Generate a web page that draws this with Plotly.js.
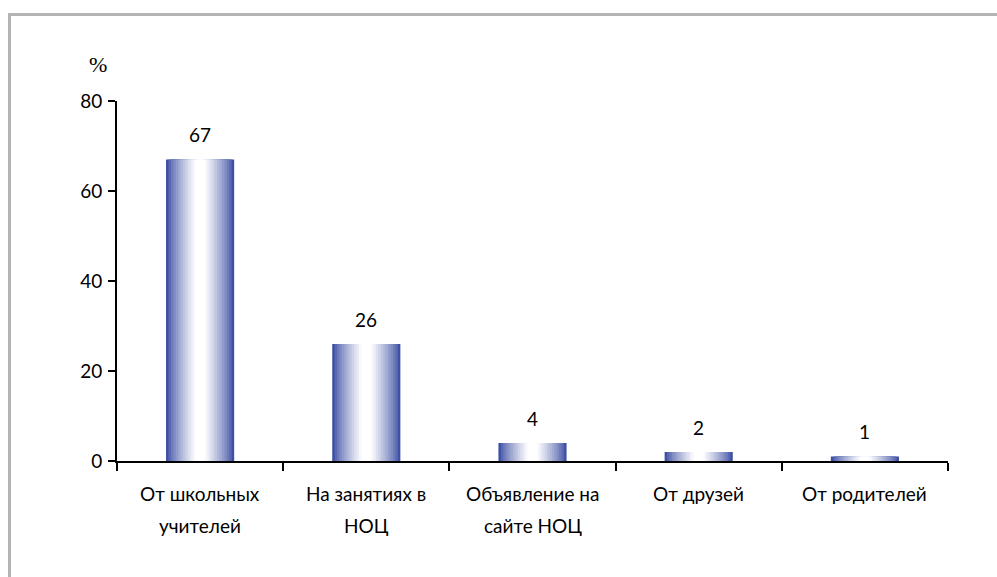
<!DOCTYPE html>
<html>
<head>
<meta charset="utf-8">
<script src="https://cdn.plot.ly/plotly-3.0.1.min.js"></script>
<style>
html,body{margin:0;padding:0;background:#fff;overflow:hidden;}
#frame{position:absolute;left:8px;top:13px;width:1100px;height:700px;border-top:3px solid #b3b3b3;border-left:3px solid #b3b3b3;}
#chart{position:absolute;left:0;top:0;width:997px;height:577px;}
</style>
</head>
<body>
<div id="frame"></div>
<div id="chart"></div>
<script>
const categories = ["От школьных учителей", "На занятиях в НОЦ", "Объявление на сайте НОЦ", "От друзей", "От родителей"];
const labelLine1 = ["От школьных", "На занятиях в", "Объявление на", "От друзей", "От родителей"];
const labelLine2 = ["учителей", "НОЦ", "сайте НОЦ", "", ""];
const values = [67, 26, 4, 2, 1];
const yTicks = [0, 20, 40, 60, 80];
const yUnit = "%";

const edge = [62, 80, 164];
const N = 14;
const fullWidth = 0.41;
const traces = [];
for (let i = 0; i < N; i++) {
  const t = i / (N - 1);
  const f = Math.min(1, Math.pow(t, 0.8) * 1.1);
  const c = edge.map(v => Math.round(v + (255 - v) * f));
  traces.push({
    type: 'bar',
    x: categories,
    y: values,
    width: fullWidth * (1 - 0.93 * t),
    marker: {color: `rgb(${c[0]},${c[1]},${c[2]})`, line: {width: 0}},
    hoverinfo: 'skip',
    showlegend: false
  });
}

const FONT = 'Lato, sans-serif';
const FS = 19;
const annotations = [];
categories.forEach((cat, i) => {
  annotations.push({x: cat, y: values[i], xref: 'x', yref: 'y', text: String(values[i]), showarrow: false,
    yanchor: 'middle', yshift: 25, font: {family: FONT, size: FS, color: '#000'}});
  annotations.push({x: cat, y: -33 / 360, xref: 'x', yref: 'paper', text: labelLine1[i], showarrow: false,
    yanchor: 'middle', font: {family: FONT, size: FS, color: '#000'}});
  if (labelLine2[i]) annotations.push({x: cat, y: -64 / 360, xref: 'x', yref: 'paper', text: labelLine2[i], showarrow: false,
    yanchor: 'middle', font: {family: FONT, size: FS, color: '#000'}});
});
annotations.push({xref: 'paper', yref: 'paper', x: -19 / 831, y: 1 + 36 / 360, xanchor: 'center', yanchor: 'middle',
  text: yUnit, showarrow: false, font: {family: 'Liberation Serif, serif', size: 22, color: '#000'}});

const layout = {
  width: 997, height: 577,
  margin: {l: 117, r: 49, t: 101, b: 116},
  paper_bgcolor: 'rgba(0,0,0,0)', plot_bgcolor: 'rgba(0,0,0,0)',
  barmode: 'overlay',
  xaxis: {type: 'category', showline: true, linecolor: '#000', linewidth: 2, ticks: 'outside', tickson: 'boundaries',
    ticklen: 8, tickwidth: 2, tickcolor: '#000', showticklabels: false, showgrid: false, zeroline: false, fixedrange: true},
  yaxis: {range: [0, 80], tickvals: yTicks, showline: true, linecolor: '#000', linewidth: 2, ticks: 'outside',
    ticklen: 7, tickwidth: 2, tickcolor: '#000', showgrid: false, zeroline: false, ticklabelstandoff: 2,
    tickfont: {family: FONT, size: FS, color: '#000'}, fixedrange: true},
  annotations: annotations
};
Plotly.newPlot('chart', traces, layout, {displayModeBar: false, staticPlot: true});
</script>
</body>
</html>
